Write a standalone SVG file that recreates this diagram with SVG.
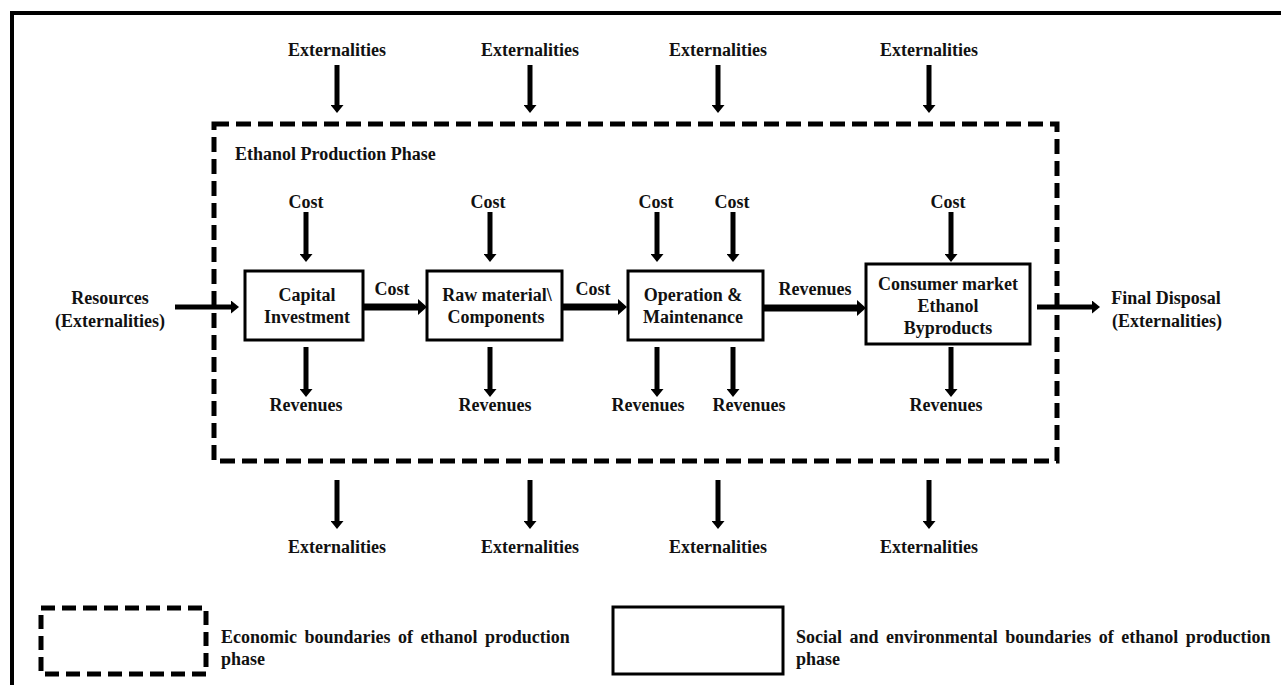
<svg xmlns="http://www.w3.org/2000/svg" width="1281" height="685" viewBox="0 0 1281 685">
<style>
text{font-family:"Liberation Serif","Times New Roman",serif;font-weight:bold;font-size:18px;fill:#111;}
.c{text-anchor:middle;}
.box{fill:#fff;stroke:#000;stroke-width:3;}
.ar{stroke:#000;stroke-width:5;fill:none;}
.arb{stroke:#000;stroke-width:7;fill:none;}
.dash{fill:none;stroke:#000;stroke-width:5;stroke-dasharray:15 7;}
</style>
<defs>
<marker id="ah" markerUnits="userSpaceOnUse" viewBox="0 0 10 10" refX="0" refY="5" markerWidth="8" markerHeight="13" orient="auto" preserveAspectRatio="none"><path d="M0,0 L10,5 L0,10 z" fill="#000"/></marker>
<marker id="ahb" markerUnits="userSpaceOnUse" viewBox="0 0 10 10" refX="0" refY="5" markerWidth="9" markerHeight="16" orient="auto" preserveAspectRatio="none"><path d="M0,0 L10,5 L0,10 z" fill="#000"/></marker>
</defs>
<rect width="1281" height="685" fill="#fff"/>
<rect x="12" y="13" width="1300" height="700" fill="none" stroke="#000" stroke-width="4"/>

<g id="boundary">
<rect class="dash" x="214" y="124" width="843" height="337"/>
<text x="235" y="160">Ethanol Production Phase</text>
</g>

<g id="connectors">
<path class="ar" d="M337,65V105" marker-end="url(#ah)"/>
<path class="ar" d="M530,65V105" marker-end="url(#ah)"/>
<path class="ar" d="M718,65V105" marker-end="url(#ah)"/>
<path class="ar" d="M929,65V105" marker-end="url(#ah)"/>
<path class="ar" d="M306,212V254" marker-end="url(#ah)"/>
<path class="ar" d="M490,212V254" marker-end="url(#ah)"/>
<path class="ar" d="M657,212V254" marker-end="url(#ah)"/>
<path class="ar" d="M733,212V254" marker-end="url(#ah)"/>
<path class="ar" d="M951,212V254" marker-end="url(#ah)"/>
<path class="ar" d="M306,347V389" marker-end="url(#ah)"/>
<path class="ar" d="M490,347V389" marker-end="url(#ah)"/>
<path class="ar" d="M657,347V389" marker-end="url(#ah)"/>
<path class="ar" d="M733,347V389" marker-end="url(#ah)"/>
<path class="ar" d="M951,347V389" marker-end="url(#ah)"/>
<path class="ar" d="M337,480V521" marker-end="url(#ah)"/>
<path class="ar" d="M530,480V521" marker-end="url(#ah)"/>
<path class="ar" d="M718,480V521" marker-end="url(#ah)"/>
<path class="ar" d="M929,480V521" marker-end="url(#ah)"/>
<path class="ar" d="M175,307H231" marker-end="url(#ah)"/>
<path class="arb" d="M363,307H418" marker-end="url(#ahb)"/>
<path class="arb" d="M562,307H618" marker-end="url(#ahb)"/>
<path class="arb" d="M763,308H857" marker-end="url(#ahb)"/>
<path class="ar" d="M1037,307H1092" marker-end="url(#ah)"/>
</g>

<g id="labels">
<text class="c" x="337" y="56">Externalities</text>
<text class="c" x="530" y="56">Externalities</text>
<text class="c" x="718" y="56">Externalities</text>
<text class="c" x="929" y="56">Externalities</text>
<text class="c" x="306" y="208">Cost</text>
<text class="c" x="488" y="208">Cost</text>
<text class="c" x="656" y="208">Cost</text>
<text class="c" x="732" y="208">Cost</text>
<text class="c" x="948" y="208">Cost</text>
<text class="c" x="392" y="295">Cost</text>
<text class="c" x="593" y="295">Cost</text>
<text class="c" x="815" y="295">Revenues</text>
<text class="c" x="306" y="411">Revenues</text>
<text class="c" x="495" y="411">Revenues</text>
<text class="c" x="648" y="411">Revenues</text>
<text class="c" x="749" y="411">Revenues</text>
<text class="c" x="946" y="411">Revenues</text>
<text class="c" x="337" y="553">Externalities</text>
<text class="c" x="530" y="553">Externalities</text>
<text class="c" x="718" y="553">Externalities</text>
<text class="c" x="929" y="553">Externalities</text>
</g>

<g id="resources">
<text class="c" x="110" y="304">Resources</text>
<text class="c" x="110" y="327">(Externalities)</text>
</g>

<g id="capital">
<rect class="box" x="245" y="271" width="118" height="69"/>
<text class="c" x="307" y="301">Capital</text>
<text class="c" x="307" y="323">Investment</text>
</g>

<g id="raw">
<rect class="box" x="427" y="271" width="135" height="69"/>
<text class="c" x="497" y="301">Raw material\</text>
<text class="c" x="496" y="323">Components</text>
</g>

<g id="operation">
<rect class="box" x="628" y="271" width="135" height="69"/>
<text class="c" x="693" y="301">Operation &amp;</text>
<text class="c" x="693" y="323">Maintenance</text>
</g>

<g id="consumer">
<rect class="box" x="866" y="264" width="164" height="80"/>
<text class="c" x="948" y="290">Consumer market</text>
<text class="c" x="948" y="312">Ethanol</text>
<text class="c" x="948" y="334">Byproducts</text>
</g>

<g id="disposal">
<text class="c" x="1166" y="304">Final Disposal</text>
<text class="c" x="1167" y="327">(Externalities)</text>
</g>

<g id="legend-economic">
<rect x="41" y="608" width="165" height="66" fill="none" stroke="#000" stroke-width="5" stroke-dasharray="14 7"/>
<text x="221" y="643" word-spacing="3">Economic boundaries of ethanol production</text>
<text x="221" y="665">phase</text>
</g>

<g id="legend-social">
<rect class="box" x="613" y="607" width="170" height="67"/>
<text x="796" y="643" word-spacing="3">Social and environmental boundaries of ethanol production</text>
<text x="796" y="665">phase</text>
</g>
</svg>
